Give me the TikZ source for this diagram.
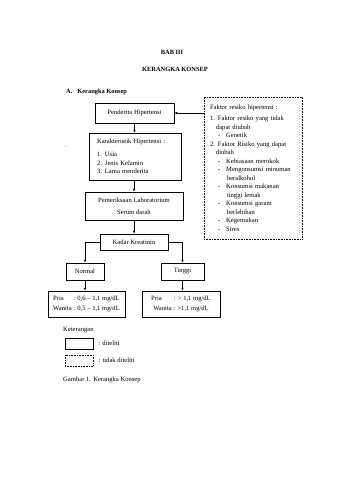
\documentclass[tikz,border=0pt]{standalone}
\usepackage{fontspec}
\setmainfont{Liberation Serif}
\usetikzlibrary{positioning, arrows.meta}

\begin{document}
\begin{tikzpicture}[x=1pt, y=-1pt,
          every node/.style={font=\fontsize{6.6}{8.5}\selectfont},
          box/.style={draw, line width=0.5pt, inner sep=2pt},
          dotbox/.style={box, line width=0.6pt, dash pattern=on 0.6pt off 1pt},
          arr/.style={-{Latex[length=3pt, width=2.4pt]}, line width=0.5pt},
          ttl/.style={font=\fontsize{6.4}{8.5}\selectfont\bfseries},
          lbl/.style={anchor=west, inner sep=0pt}
        ]
        \useasboundingbox (0,0) rectangle (339,480);

        % headings
        \node[ttl] (bab)   at (172,52) {BAB III};
        \node[ttl] (judul) at (175,69) {KERANGKA KONSEP};
        \node[ttl, lbl] (sub) at (66,92) {A.\hspace{5pt}Kerangka Konsep};

        % main column
        \node[box, minimum width=79pt, minimum height=20pt] (pend) at (134.5,113) {Penderita Hipertensi};
        \node[box, minimum width=92pt, minimum height=47pt, align=left, text width=77pt]
                   (kar) at (135.5,156.5)
                   {Karakteristik Hipertensi :\\[5pt]
                    1.\hspace{3pt}Usia\\
                    2.\hspace{3pt}Jenis Kelamin\\
                    3.\hspace{3pt}Lama menderita};
        \node[lbl] (titik) at (65,147) {.};
        \node[box, minimum width=98pt, minimum height=28pt, align=center]
                   (lab) at (134,206) {Pemeriksaan Laboratorium\\[4pt] Serum darah};
        \node[box, minimum width=68pt, minimum height=16pt] (kadar) at (134,242) {Kadar Kreatinin};
        \node[box, minimum width=38pt, minimum height=17pt] (normal) at (85,271.5) {Normal};
        \node[box, minimum width=43pt, minimum height=17pt] (tinggi) at (182.5,271.5) {Tinggi};
        \node[box, minimum width=77pt, minimum height=26pt] (nilaiN) at (86.5,304)
              {\begin{tabular}{@{}l@{ }l@{}}Pria & : 0,6 -- 1,1 mg/dL\\[1.5pt] Wanita & : 0,5 -- 1,1 mg/dL\end{tabular}};
        \node[box, minimum width=78pt, minimum height=26pt, align=center] (nilaiT) at (181,304)
              {Pria\hspace{12pt}: > 1,1 mg/dL\\[1.5pt] Wanita : >1,1 mg/dL};

        % risk factors (not studied)
        \node[dotbox, minimum width=98pt, minimum height=142pt, text width=86pt, align=left,
              inner xsep=6pt] (faktor) at (253,168)
              {Faktor resiko hipertensi :\\[3pt]
               1.\hspace{3pt}Faktor resiko yang tidak\\
               \hspace*{6pt}dapat diubah\\
               \hspace*{8pt}-\hspace{6pt}Genetik\\
               2.\hspace{3pt}Faktor Risiko yang dapat\\
               \hspace*{6pt}diubah\\
               \hspace*{8pt}-\hspace{6pt}Kebiasaan merokok\\
               \hspace*{8pt}-\hspace{6pt}Mengonsumsi minuman\\
               \hspace*{17pt}beralkohol\\
               \hspace*{8pt}-\hspace{6pt}Konsumsi makanan\\
               \hspace*{17pt}tinggi lemak\\
               \hspace*{8pt}-\hspace{6pt}Konsumsi garam\\
               \hspace*{17pt}berlebihan\\
               \hspace*{8pt}-\hspace{6pt}Kegemukan\\
               \hspace*{8pt}-\hspace{6pt}Stres};

        \draw[arr] (faktor.west |- pend.east) -- (pend.east);
        \draw[arr] (pend.south) -- (pend.south |- kar.north);
        \draw[arr] (kar.south) -- (kar.south -| lab.north) -- (lab.north);
        \draw[arr] (lab.south) -- (kadar.north);
        \draw[arr] (kadar.west) -| (normal.north);
        \draw[arr] (kadar.east) -| (tinggi.north);
        \draw[arr] (normal.south) -- (normal.south |- nilaiN.north);
        \draw[arr] (tinggi.south) -- (tinggi.south |- nilaiT.north);

        % legend
        \node[lbl] (ket) at (63,330) {Keterangan};
        \node[box, minimum width=28pt, minimum height=11pt] (legA) at (79,343.5) {};
        \node[lbl, right=5pt of legA] (legAtxt) {: diteliti};
        \node[dotbox, minimum width=28pt, minimum height=11pt] (legB) at (79,360.5) {};
        \node[lbl, right=5pt of legB] (legBtxt) {: tidak diteliti};
        \node[lbl] (gambar) at (63,380) {Gambar 1. Kerangka Konsep};
      \end{tikzpicture}
\end{document}
